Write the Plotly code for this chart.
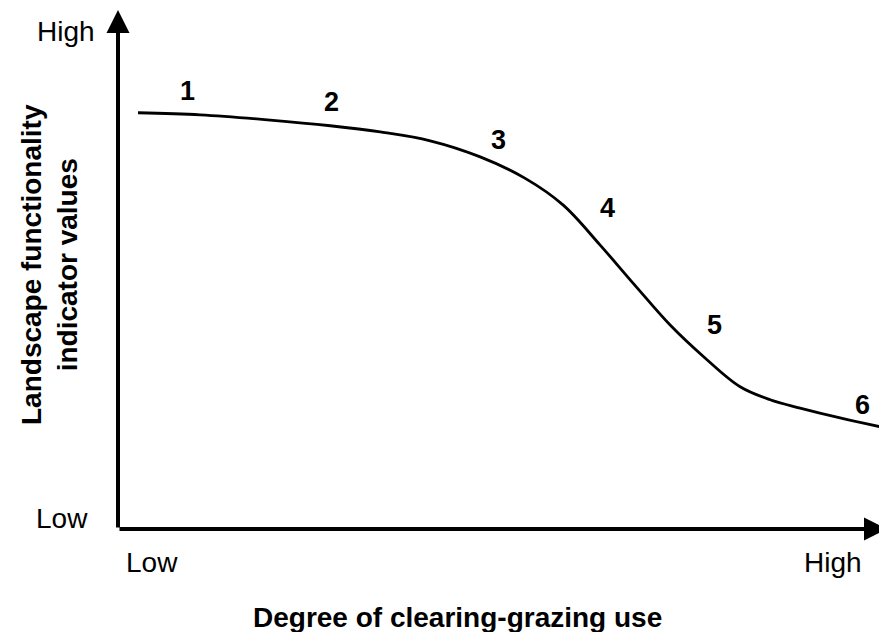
import plotly.graph_objects as go

# Conceptual curve: degree of clearing-grazing use (0-10) vs landscape functionality (0-10)
use_level = [0.26, 1.07, 1.98, 2.76, 3.41, 4.06, 4.71, 5.29, 5.79, 6.27, 6.72, 7.18,
             7.63, 8.09, 8.48, 8.87, 9.39, 9.91]
functionality = [8.02, 7.98, 7.88, 7.77, 7.65, 7.48, 7.17, 6.76, 6.24, 5.47, 4.70, 3.93,
                 3.30, 2.74, 2.49, 2.33, 2.14, 1.97]

stage_labels = ["1", "2", "3", "4", "5", "6"]
stage_x = [0.90, 2.78, 4.95, 6.36, 7.76, 9.68]
stage_y = [8.44, 8.23, 7.50, 6.19, 3.93, 2.39]

x_tick_labels = ["Low", "High"]
y_tick_labels = ["Low", "High"]

FONT = "Liberation Sans, Arial, sans-serif"

fig = go.Figure()
fig.add_trace(go.Scatter(
    x=use_level, y=functionality, mode="lines",
    line=dict(color="black", width=2.8, shape="spline", smoothing=1.0),
    hoverinfo="skip", showlegend=False,
))

ann = []
# axis arrows
ann.append(dict(x=0, y=10, ax=0, ay=0, xref="x", yref="y", axref="x", ayref="y",
                text="", showarrow=True, arrowhead=2, arrowsize=1.15, arrowwidth=4,
                arrowcolor="black", standoff=0, startstandoff=0))
ann.append(dict(x=10, y=0, ax=0, ay=0, xref="x", yref="y", axref="x", ayref="y",
                text="", showarrow=True, arrowhead=2, arrowsize=1.15, arrowwidth=4,
                arrowcolor="black", standoff=0, startstandoff=0))

# stage numbers
for t, xx, yy in zip(stage_labels, stage_x, stage_y):
    ann.append(dict(x=xx, y=yy, xref="x", yref="y", text=f"<b>{t}</b>", showarrow=False,
                    xanchor="center", yanchor="middle",
                    font=dict(family=FONT, size=27, color="black")))

tick_font = dict(family=FONT, size=28, color="black")
common = dict(xref="paper", yref="paper", showarrow=False, xanchor="center", yanchor="middle",
              font=tick_font)
# tick labels (paper coordinates)
ann.append(dict(x=-0.0676, y=0.9595, text=y_tick_labels[1], **common))
ann.append(dict(x=-0.0728, y=0.0193, text=y_tick_labels[0], **common))
ann.append(dict(x=0.0442, y=-0.0655, text=x_tick_labels[0], **common))
ann.append(dict(x=0.9298, y=-0.0655, text=x_tick_labels[1], **common))

# axis titles
ann.append(dict(x=0.4421, y=-0.1696, text="<b>Degree of clearing-grazing use</b>", **common))
ann.append(dict(x=-0.0884, y=0.5087, text="<b>Landscape functionality<br>indicator values</b>",
                textangle=-90, **common))

# page body has an 8px margin: size the figure so the plot area lands where the reference has it
fig.update_layout(
    width=879, height=624,
    margin=dict(l=110, r=0, t=2, b=103),
    paper_bgcolor="white", plot_bgcolor="white",
    annotations=ann,
    xaxis=dict(range=[0, 10], showgrid=False, zeroline=False, showticklabels=False,
               showline=False, fixedrange=True),
    yaxis=dict(range=[0, 10], showgrid=False, zeroline=False, showticklabels=False,
               showline=False, fixedrange=True),
    showlegend=False,
)

fig.write_html("out.html", config={"displayModeBar": False})
